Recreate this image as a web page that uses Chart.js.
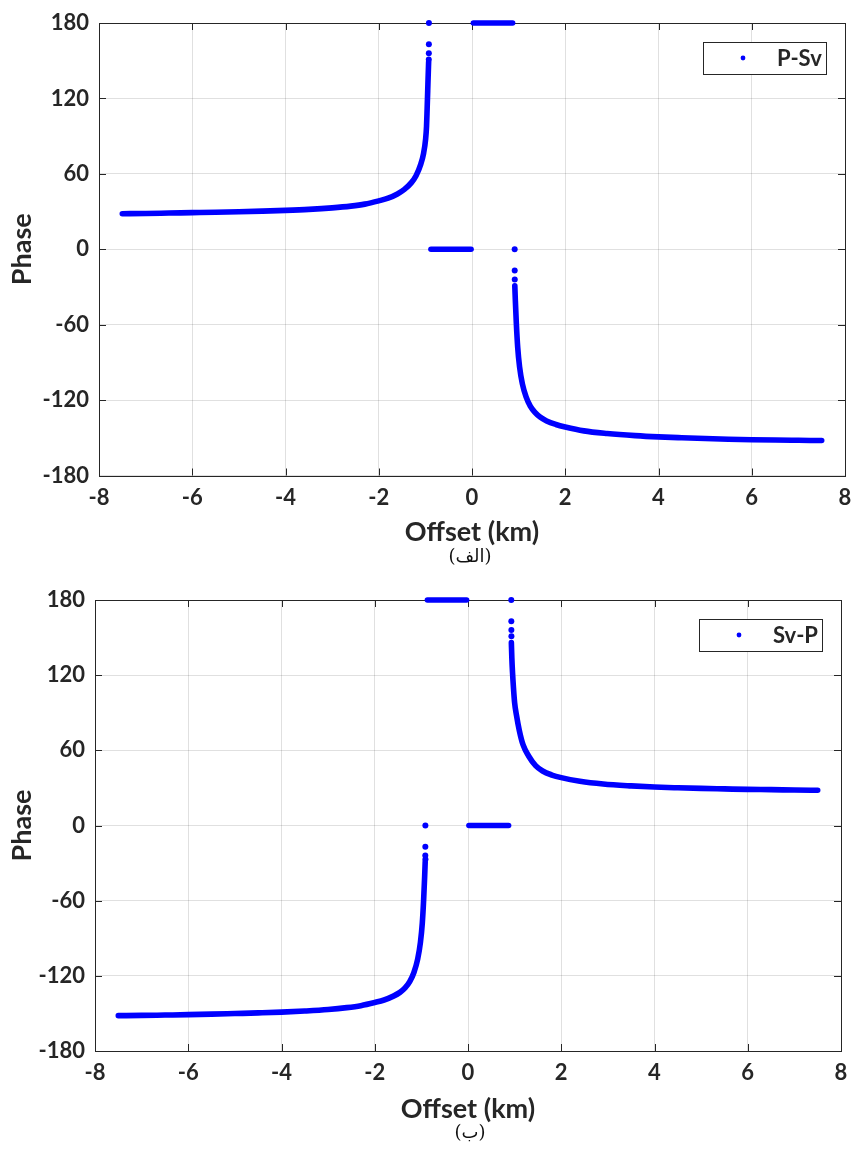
<!DOCTYPE html>
<html>
<head>
<meta charset="utf-8">
<script src="https://cdn.jsdelivr.net/npm/chart.js@4.4.1/dist/chart.umd.min.js"></script>
<style>
  html, body { margin: 0; padding: 0; background: #ffffff; }
  body { width: 852px; height: 1149px; position: relative; overflow: hidden; }
  .panel { position: absolute; left: 0; width: 852px; }
  .caption {
    position: absolute; left: 410px; width: 120px; text-align: center;
    font-family: 'DejaVu Serif', 'DejaVu Sans', serif; font-size: 18px; color: #111;
    line-height: 20px;
  }
</style>
</head>
<body>
<div class="panel" style="top:0px;height:548px"><canvas id="chartPSv" width="852" height="548"></canvas></div>
<div class="caption" dir="rtl" style="top:546px">(الف)</div>
<div class="panel" style="top:577px;height:548px"><canvas id="chartSvP" width="852" height="548"></canvas></div>
<div class="caption" dir="rtl" style="top:1122px">(ب)</div>

<script>
// ---- axis ticks ----
const OFFSET_TICKS = [-8, -6, -4, -2, 0, 2, 4, 6, 8];
const PHASE_TICKS = [-180, -120, -60, 0, 60, 120, 180];

// ---- P-Sv phase (degrees) against offset (km) ----
const PSV_LEFT_OFFSET = [-7.5, -7.0, -6.5, -6.0, -5.5, -5.0, -4.5, -4.0, -3.5, -3.0, -2.6, -2.3, -2.0, -1.8, -1.6, -1.45, -1.3, -1.2, -1.1, -1.04, -0.994, -0.975, -0.962, -0.95, -0.94, -0.93];
const PSV_LEFT_PHASE  = [28.3, 28.5, 28.8, 29.1, 29.4, 29.8, 30.3, 30.9, 31.7, 32.9, 34.3, 35.9, 38.5, 40.6, 44.0, 47.6, 53.0, 58.5, 67.5, 76, 88, 98, 112, 126, 138, 149];
const PSV_ZERO_OFFSET = [-0.88, -0.6, -0.3, -0.02];
const PSV_ZERO_PHASE  = [0, 0, 0, 0];
const PSV_HALF_OFFSET = [0.03, 0.3, 0.6, 0.87];
const PSV_HALF_PHASE  = [180, 180, 180, 180];
const PSV_RIGHT_OFFSET = [0.918, 0.93, 0.951, 0.98, 1.02, 1.08, 1.16, 1.25, 1.35, 1.46, 1.6, 1.8, 2.0, 2.4, 2.9, 3.5, 4.0, 4.5, 5.0, 5.5, 6.0, 6.5, 7.0, 7.5];
const PSV_RIGHT_PHASE  = [-29, -41, -59, -78, -93.5, -107, -117.5, -124.8, -129.8, -133.5, -136.6, -139.4, -141.4, -144.5, -146.6, -148.3, -149.3, -150.0, -150.6, -151.1, -151.5, -151.8, -152.0, -152.2];
const PSV_DOT_OFFSET = [-0.927, -0.926, -0.925, -0.924, 0.915, 0.916, 0.917];
const PSV_DOT_PHASE  = [151, 156, 163, 180, 0, -17, -24];

// ---- Sv-P phase (degrees) against offset (km) ----
const SVP_LEFT_OFFSET = [-7.5, -7.0, -6.5, -6.0, -5.5, -5.0, -4.5, -4.0, -3.5, -3.0, -2.6, -2.3, -2.0, -1.8, -1.6, -1.46, -1.35, -1.25, -1.16, -1.08, -1.02, -0.98, -0.951, -0.93, -0.918];
const SVP_LEFT_PHASE  = [-151.8, -151.6, -151.3, -151.0, -150.6, -150.1, -149.6, -149.0, -148.1, -146.9, -145.4, -143.8, -141.3, -139.3, -136.2, -133.2, -129.6, -124.6, -117.3, -106.8, -93.2, -77.8, -59, -41, -29];
const SVP_HALF_OFFSET = [-0.87, -0.6, -0.3, -0.03];
const SVP_HALF_PHASE  = [180, 180, 180, 180];
const SVP_ZERO_OFFSET = [0.02, 0.3, 0.6, 0.87];
const SVP_ZERO_PHASE  = [0, 0, 0, 0];
const SVP_RIGHT_OFFSET = [0.93, 0.94, 0.955, 0.975, 1.0, 1.04, 1.1, 1.18, 1.3, 1.45, 1.6, 1.8, 2.0, 2.4, 2.9, 3.5, 4.0, 4.5, 5.0, 5.5, 6.0, 6.5, 7.0, 7.5];
const SVP_RIGHT_PHASE  = [146, 134, 122, 110, 98, 88, 76, 64.5, 55.5, 47.8, 43.5, 40.3, 38.2, 35.3, 33.1, 31.6, 30.7, 30.1, 29.6, 29.2, 28.8, 28.6, 28.3, 28.1];
const SVP_DOT_OFFSET = [-0.916, -0.915, -0.914, -0.913, 0.928, 0.929, 0.93, 0.931];
const SVP_DOT_PHASE  = [-24, -17, 0, -27, 180, 163, 156, 151];

const BLUE = '#0000ff';
const INK = '#262626';
const FONT = 'Lato, "DejaVu Sans", sans-serif';

const toPoints = (xs, ys) => xs.map((x, i) => ({ x: x, y: ys[i] }));

function band(label, xs, ys) {
  return {
    label: label,
    data: toPoints(xs, ys),
    showLine: true,
    borderColor: BLUE,
    backgroundColor: BLUE,
    borderWidth: 5.6,
    borderCapStyle: 'round',
    borderJoinStyle: 'round',
    cubicInterpolationMode: 'monotone',
    pointRadius: 0,
    pointHoverRadius: 0,
    clip: false
  };
}

function dots(label, xs, ys) {
  return {
    label: label,
    data: toPoints(xs, ys),
    showLine: false,
    backgroundColor: BLUE,
    borderColor: BLUE,
    borderWidth: 0,
    pointRadius: 3,
    pointHoverRadius: 3,
    clip: false
  };
}

// Box around the axes with MATLAB-style inward tick marks
const axesBox = {
  id: 'axesBox',
  beforeDatasetsDraw(chart) {
    const { ctx, chartArea: a, scales } = chart;
    const xs = scales.x, ys = scales.y;
    const L = 7;
    ctx.save();
    ctx.strokeStyle = INK;
    ctx.lineWidth = 1;
    ctx.strokeRect(Math.round(a.left) + 0.5, Math.round(a.top) + 0.5,
                   Math.round(a.right - a.left), Math.round(a.bottom - a.top));
    ctx.beginPath();
    xs.ticks.forEach(t => {
      const px = Math.round(xs.getPixelForValue(t.value)) + 0.5;
      ctx.moveTo(px, a.bottom); ctx.lineTo(px, a.bottom - L);
      ctx.moveTo(px, a.top); ctx.lineTo(px, a.top + L);
    });
    ys.ticks.forEach(t => {
      const py = Math.round(ys.getPixelForValue(t.value)) + 0.5;
      ctx.moveTo(a.left, py); ctx.lineTo(a.left + L, py);
      ctx.moveTo(a.right, py); ctx.lineTo(a.right - L, py);
    });
    ctx.stroke();
    ctx.restore();
  }
};

// Framed legend in the upper right corner of the axes
const boxedLegend = {
  id: 'boxedLegend',
  afterDraw(chart) {
    const { ctx, chartArea: a } = chart;
    const ds = chart.data.datasets[0];
    const w = 123, h = 32;
    const left = Math.round(a.right - 19 - w), top = Math.round(a.top + 19);
    ctx.save();
    ctx.fillStyle = '#ffffff';
    ctx.fillRect(left, top, w, h);
    ctx.strokeStyle = INK;
    ctx.lineWidth = 1;
    ctx.strokeRect(left + 0.5, top + 0.5, w, h);
    ctx.fillStyle = ds.backgroundColor;
    ctx.beginPath();
    ctx.arc(left + 40, top + h / 2, 2.4, 0, Math.PI * 2);
    ctx.fill();
    ctx.fillStyle = INK;
    ctx.font = 'bold 22px ' + FONT;
    ctx.textAlign = 'left';
    ctx.textBaseline = 'middle';
    ctx.fillText(ds.label, left + 74, top + h / 2 + 1);
    ctx.restore();
  }
};

function makeChart(canvasId, datasets, plotLeft, plotRight, plotBottom) {
  const canvas = document.getElementById(canvasId);
  const H = canvas.height;
  return new Chart(canvas, {
    type: 'scatter',
    data: { datasets: datasets },
    options: {
      responsive: false,
      animation: false,
      events: [],
      layout: { padding: { left: 0, right: 852 - plotRight, top: 23, bottom: 0 } },
      plugins: { legend: { display: false }, tooltip: { enabled: false } },
      scales: {
        x: {
          type: 'linear',
          min: -8, max: 8,
          afterBuildTicks(scale) { scale.ticks = OFFSET_TICKS.map(v => ({ value: v })); },
          afterFit(scale) {
            scale.height = H - plotBottom;
            scale.paddingLeft = 0; scale.paddingRight = 0;
          },
          grid: { color: 'rgba(0,0,0,0.12)', lineWidth: 1, drawTicks: false },
          border: { display: false },
          ticks: { padding: 9, color: INK, font: { family: FONT, weight: 'bold', size: 22 } },
          title: { display: true, text: 'Offset (km)', color: INK, padding: { top: 0, bottom: 0 },
                   font: { family: FONT, weight: 'bold', size: 27 } }
        },
        y: {
          type: 'linear',
          min: -180, max: 180,
          afterBuildTicks(scale) { scale.ticks = PHASE_TICKS.map(v => ({ value: v })); },
          afterFit(scale) {
            scale.width = plotLeft;
            scale.paddingTop = 0; scale.paddingBottom = 0;
          },
          grid: { color: 'rgba(0,0,0,0.12)', lineWidth: 1, drawTicks: false },
          border: { display: false },
          ticks: { padding: 10, color: INK, font: { family: FONT, weight: 'bold', size: 22 } },
          title: { display: true, text: 'Phase', color: INK, padding: { top: 6, bottom: 0 },
                   font: { family: FONT, weight: 'bold', size: 27 } }
        }
      }
    },
    plugins: [axesBox, boxedLegend]
  });
}

makeChart('chartPSv', [
  dots('P-Sv', PSV_DOT_OFFSET, PSV_DOT_PHASE),
  band('P-Sv', PSV_LEFT_OFFSET, PSV_LEFT_PHASE),
  band('P-Sv', PSV_ZERO_OFFSET, PSV_ZERO_PHASE),
  band('P-Sv', PSV_HALF_OFFSET, PSV_HALF_PHASE),
  band('P-Sv', PSV_RIGHT_OFFSET, PSV_RIGHT_PHASE)
], 99, 845, 475.5);

makeChart('chartSvP', [
  dots('Sv-P', SVP_DOT_OFFSET, SVP_DOT_PHASE),
  band('Sv-P', SVP_LEFT_OFFSET, SVP_LEFT_PHASE),
  band('Sv-P', SVP_HALF_OFFSET, SVP_HALF_PHASE),
  band('Sv-P', SVP_ZERO_OFFSET, SVP_ZERO_PHASE),
  band('Sv-P', SVP_RIGHT_OFFSET, SVP_RIGHT_PHASE)
], 95, 841, 474);
</script>
</body>
</html>
